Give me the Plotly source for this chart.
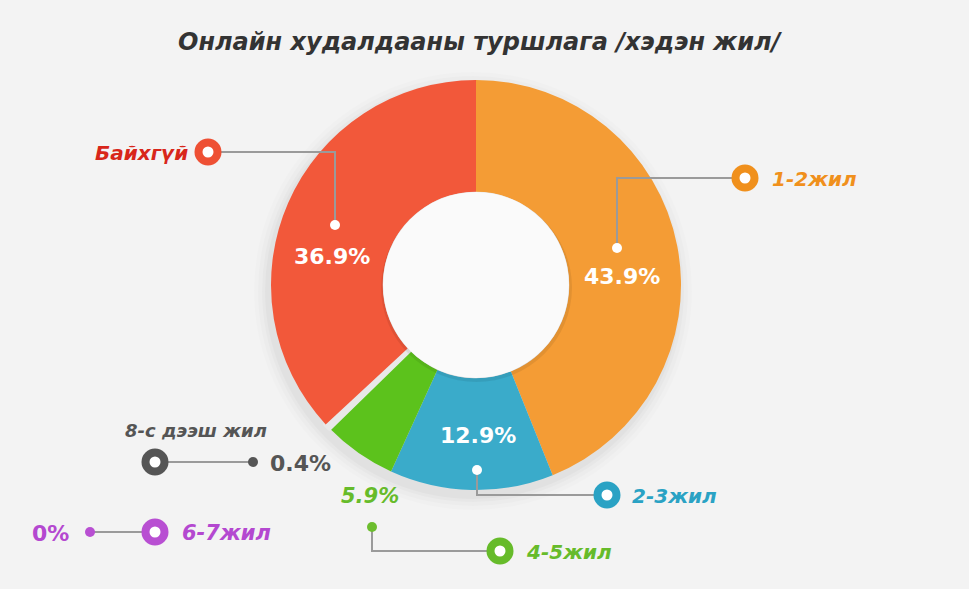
import plotly.graph_objects as go

# ---- data ----
categories = ["1-2жил", "2-3жил", "4-5жил", "6-7жил", "8-с дээш жил", "Байхгүй"]
values = [43.9, 12.9, 5.9, 0.0, 0.4, 36.9]
pct_labels = ["43.9%", "12.9%", "5.9%", "0%", "0.4%", "36.9%"]
slice_colors = ["#f49c35", "#3aabca", "#5cc21c", "#b84fd2", "#e8e8e8", "#f2583a"]
label_colors = ["#f0901c", "#2aa2c4", "#66bb2a", "#b448d0", "#4d4d4d", "#d8261a"]

W, H = 969, 589
def px(x): return x / W
def py(y): return 1 - y / H

FONT = "DejaVu Sans"
cx, cy, R = 476, 285, 205

fig = go.Figure()
fig.add_trace(go.Pie(
    labels=categories, values=values, sort=False, direction="clockwise", rotation=0,
    hole=0.455, textinfo="none", hoverinfo="label+percent", showlegend=False,
    marker=dict(colors=slice_colors,
                line=dict(color=slice_colors, width=[0, 0, 0, 0, 5, 0])),
    domain=dict(x=[px(cx - R), px(cx + R)], y=[py(cy + R), py(cy - R)]),
))

shapes = []
annotations = []

# soft shadow under donut (stacked translucent discs)
for grow, op in [(14, 0.012), (10, 0.015), (6, 0.02), (3, 0.025)]:
    shapes.append(dict(type="circle", xref="paper", yref="paper", layer="below",
                       x0=px(cx - R - grow - 3), x1=px(cx + R + grow - 3),
                       y0=py(cy + R + grow + 6), y1=py(cy - R - grow + 6),
                       fillcolor=f"rgba(0,0,0,{op})", line=dict(width=0)))
# inner white disc with subtle shadow
shapes.append(dict(type="circle", xref="paper", yref="paper", layer="above",
                   x0=px(cx - 95), x1=px(cx + 96), y0=py(cy + 97), y1=py(cy - 92),
                   fillcolor="rgba(0,0,0,0.07)", line=dict(width=0)))
shapes.append(dict(type="circle", xref="paper", yref="paper", layer="above",
                   x0=px(cx - 93), x1=px(cx + 93), y0=py(cy + 93), y1=py(cy - 93),
                   fillcolor="#fafafa", line=dict(width=0)))

def line(pts, color="#9a9a9a", width=2):
    path = "M " + " L ".join(f"{px(x)},{py(y)}" for x, y in pts)
    shapes.append(dict(type="path", xref="paper", yref="paper", layer="above", path=path,
                       line=dict(color=color, width=width)))

def dot(x, y, color, r=5):
    shapes.append(dict(type="circle", xref="paper", yref="paper", layer="above",
                       xsizemode="pixel", ysizemode="pixel", xanchor=px(x), yanchor=py(y),
                       x0=-r, x1=r, y0=-r, y1=r, fillcolor=color, line=dict(width=0)))

def ring(x, y, color):
    shapes.append(dict(type="circle", xref="paper", yref="paper", layer="above",
                       xsizemode="pixel", ysizemode="pixel", xanchor=px(x), yanchor=py(y),
                       x0=-9.5, x1=9.5, y0=-9.5, y1=9.5, fillcolor="white",
                       line=dict(color=color, width=8)))

def text(x, y, s, color, size=20, xanchor="center", italic=True):
    annotations.append(dict(x=px(x), y=py(y), xref="paper", yref="paper", text=s, showarrow=False,
                            xanchor=xanchor, yanchor="middle",
                            font=dict(family=FONT, size=size, color=color, weight="bold",
                                      style="italic" if italic else "normal")))

# 1-2жил
line([(617, 248), (617, 178), (733, 178)])
dot(617, 248, "white")
ring(745, 178, label_colors[0])
text(770, 179, categories[0], label_colors[0], xanchor="left")
text(622, 276, pct_labels[0], "white", size=22, italic=False)

# Байхгүй
line([(335, 225), (335, 152), (220, 152)])
dot(335, 225, "white")
ring(208, 152, "#ee5034")
text(190, 153, categories[5], label_colors[5], xanchor="right")
text(332, 256, pct_labels[5], "white", size=22, italic=False)

# 2-3жил
line([(477, 470), (477, 495), (595, 495)])
dot(477, 470, "white")
ring(607, 495, label_colors[1])
text(630, 496, categories[1], label_colors[1], xanchor="left")
text(478, 435, pct_labels[1], "white", size=22, italic=False)

# 4-5жил
line([(372, 527), (372, 551), (488, 551)])
dot(372, 527, "#6cbd2e")
ring(500, 551, label_colors[2])
text(524, 552, categories[2], label_colors[2], xanchor="left")
text(370, 496, pct_labels[2], label_colors[2], size=21)

# 8-с дээш жил
line([(160, 462), (253, 462)])
dot(253, 462, "#555555")
ring(155, 462, "#555555")
text(196, 430, categories[4], "#555555", size=18)
text(268, 463, pct_labels[4], "#555555", size=22, xanchor="left", italic=False)

# 6-7жил
line([(90, 532), (150, 532)])
dot(90, 532, "#b84fd2")
ring(155, 532, "#b84fd2")
text(180, 533, categories[3], label_colors[3], size=21, xanchor="left")
text(50, 533, pct_labels[3], label_colors[3], size=22, italic=False)

# title
annotations.append(dict(x=px(480), y=py(42), xref="paper", yref="paper",
                        text="Онлайн худалдааны туршлага /хэдэн жил/", showarrow=False,
                        xanchor="center", yanchor="middle",
                        font=dict(family=FONT, size=24, color="#333333", weight="bold", style="italic")))

fig.update_layout(width=W, height=H, margin=dict(l=0, r=0, t=0, b=0),
                  paper_bgcolor="#f3f3f3", plot_bgcolor="#f3f3f3",
                  shapes=shapes, annotations=annotations)
fig.write_html("out.html")
